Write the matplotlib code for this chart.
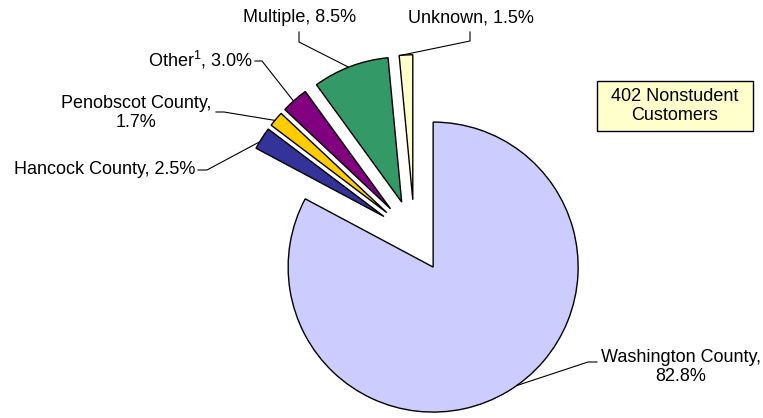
import numpy as np
import matplotlib.pyplot as plt
from matplotlib.patches import Rectangle

plt.rcParams['font.family'] = ['Liberation Sans', 'DejaVu Sans']
plt.rcParams['mathtext.fontset'] = 'custom'
plt.rcParams['mathtext.rm'] = 'Liberation Sans'
plt.rcParams['mathtext.it'] = 'Liberation Sans'

labels = ["Washington County", "Hancock County", "Penobscot County",
          "Other", "Multiple", "Unknown"]
shares = [82.8, 2.5, 1.7, 3.0, 8.5, 1.5]
colors = ["#CCCCFF", "#333399", "#FFCC00", "#800080", "#339966", "#FFFFCC"]
n_customers = 402

# pixel geometry of the reference (pie centre, radius)
W, H = 763, 418
CX, CY, R = 414.5, 236.0, 145.0


def px(x, y):
    return (x - CX) / R, (CY - y) / R


fig = plt.figure(figsize=(W / 100, H / 100), dpi=100)
ax = fig.add_axes([0, 0, 1, 1])

wedges, _ = ax.pie(shares, colors=colors, startangle=90, counterclock=False,
                   explode=[0.25] * len(shares), radius=1.0,
                   wedgeprops=dict(edgecolor="black", linewidth=1.0))

ax.set_aspect("auto")
ax.set_xlim(-CX / R, (W - CX) / R)
ax.set_ylim(-(H - CY) / R, CY / R)
ax.axis("off")

label_text = [
    f"{labels[0]},\n{shares[0]:.1f}%",
    f"{labels[1]}, {shares[1]:.1f}%",
    f"{labels[2]},\n{shares[2]:.1f}%",
    f"{labels[3]}$^{{1}}$, {shares[3]:.1f}%",
    f"{labels[4]}, {shares[4]:.1f}%",
    f"{labels[5]}, {shares[5]:.1f}%",
]
text_pos = [(681, 367), (195, 170), (136, 113), (253, 60), (300, 17), (471, 18)]
text_ha = ["center", "right", "center", "right", "center", "center"]
elbows = [
    [(597, 362), (588, 362)],
    [(198, 170), (207, 170)],
    [(216, 112), (224, 112)],
    [(255, 61), (262, 61)],
    [(299, 32), (299, 42)],
    [(470, 32), (470, 41)],
]
touch_angle = [-54.8, 149.0, 140.5, 132.0, 111.5, 94.5]

for w, txt, pos, ha, elb, ang in zip(wedges, label_text, text_pos, text_ha,
                                     elbows, touch_angle):
    tx, ty = px(*pos)
    ax.text(tx, ty, txt, ha=ha, va="center", fontsize=13, linespacing=1.15)
    cx, cy = w.center
    end = (cx + np.cos(np.radians(ang)), cy + np.sin(np.radians(ang)))
    pts = [px(*p) for p in elb] + [end]
    ax.plot([p[0] for p in pts], [p[1] for p in pts], color="black", lw=0.8)

# note box
x0, y1 = px(597, 81)
x1, y0 = px(753, 131)
ax.add_patch(Rectangle((x0, y0), x1 - x0, y1 - y0, facecolor="#FFFFCC",
                       edgecolor="black", linewidth=1.0, zorder=3))
bx, by = px(675, 106)
ax.text(bx, by, f"{n_customers} Nonstudent\nCustomers", ha="center", va="center",
        fontsize=13, linespacing=1.15, zorder=4)

fig.savefig("out.png", dpi=100)
